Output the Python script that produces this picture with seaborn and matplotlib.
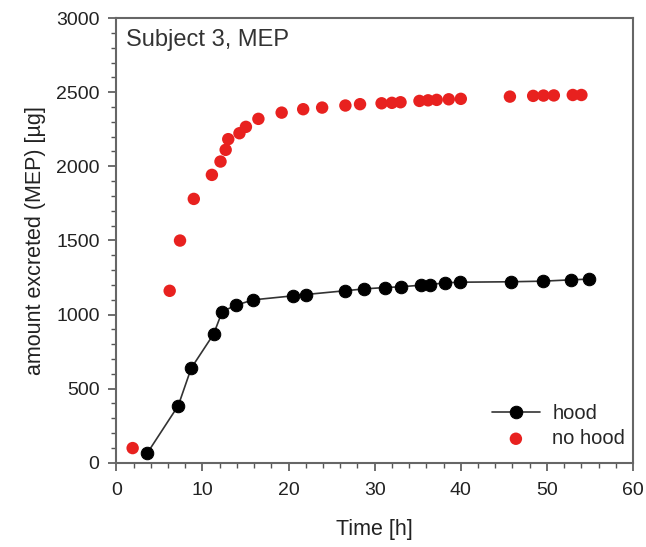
import matplotlib
matplotlib.use("Agg")
import matplotlib.pyplot as plt
import seaborn as sns
import pandas as pd
from matplotlib.ticker import MultipleLocator

hood_time = [3.6, 7.2, 8.7, 11.3, 12.3, 13.9, 15.9, 20.5, 22.0, 26.5, 28.8, 31.2, 33.0,
             35.4, 36.4, 38.2, 39.9, 45.8, 49.5, 52.8, 54.9]
hood_amount = [65, 386, 638, 868, 1020, 1063, 1099, 1126, 1135, 1160, 1173, 1182, 1187,
               1198, 1202, 1214, 1218, 1221, 1225, 1234, 1239]

nohood_time = [1.9, 6.2, 7.4, 9.0, 11.1, 12.1, 12.7, 13.0, 14.3, 15.05, 16.5, 19.2, 21.7,
               23.9, 26.6, 28.3, 30.8, 32.0, 33.0, 35.2, 36.2, 37.2, 38.6, 40.0, 45.7,
               48.4, 49.6, 50.8, 53.0, 54.0]
nohood_amount = [99, 1160, 1499, 1780, 1942, 2032, 2111, 2183, 2223, 2266, 2320, 2362, 2385,
                 2396, 2410, 2419, 2425, 2428, 2432, 2441, 2445, 2448, 2452, 2455, 2470,
                 2475, 2477, 2478, 2481, 2481]

sns.set_theme(style="white")
plt.rcParams['font.family'] = ['Liberation Sans', 'DejaVu Sans']

fig = plt.figure(figsize=(6.46, 5.47), dpi=100)
ax = fig.add_axes([0.18, 0.154, 0.80, 0.813])

hood = pd.DataFrame({"t": hood_time, "a": hood_amount})
nohood = pd.DataFrame({"t": nohood_time, "a": nohood_amount})

sns.lineplot(data=hood, x="t", y="a", ax=ax, color="#333333", linewidth=1.2,
             marker="o", markersize=9, markerfacecolor="black", markeredgecolor="black",
             label="hood", zorder=3)
sns.scatterplot(data=nohood, x="t", y="a", ax=ax, color="#e8211f", s=80,
                edgecolor="none", label="no hood", zorder=4)

ax.set_xlim(0, 60)
ax.set_ylim(0, 3000)
ax.xaxis.set_major_locator(MultipleLocator(10))
ax.xaxis.set_minor_locator(MultipleLocator(2))
ax.yaxis.set_major_locator(MultipleLocator(500))
ax.yaxis.set_minor_locator(MultipleLocator(100))
ax.tick_params(which="both", direction="out", bottom=True, left=True, top=False, right=False,
               color="#555555")
ax.tick_params(which="major", length=6, width=1.2, labelsize=14, labelcolor="#222222")
ax.tick_params(axis="x", which="major", pad=8)
ax.tick_params(axis="y", which="major", pad=6)
ax.tick_params(which="minor", length=3.5, width=1.0)
for s in ax.spines.values():
    s.set_color("#666666")
    s.set_linewidth(1.5)

ax.set_xlabel("Time [h]", fontsize=15.5, color="#222222", labelpad=14)
ax.set_ylabel("amount excreted (MEP) [µg]", fontsize=15.5, color="#222222", labelpad=7)
ax.text(0.018, 0.975, "Subject 3, MEP", transform=ax.transAxes, fontsize=17,
        va="top", ha="left", color="#333333")

leg = ax.legend(loc="lower right", bbox_to_anchor=(1.0, 0.015), frameon=False, fontsize=14.5,
                handlelength=2.4, handletextpad=0.6, labelspacing=0.3, borderaxespad=0.2,
                borderpad=0.2)

fig.savefig("out.png", dpi=100)
